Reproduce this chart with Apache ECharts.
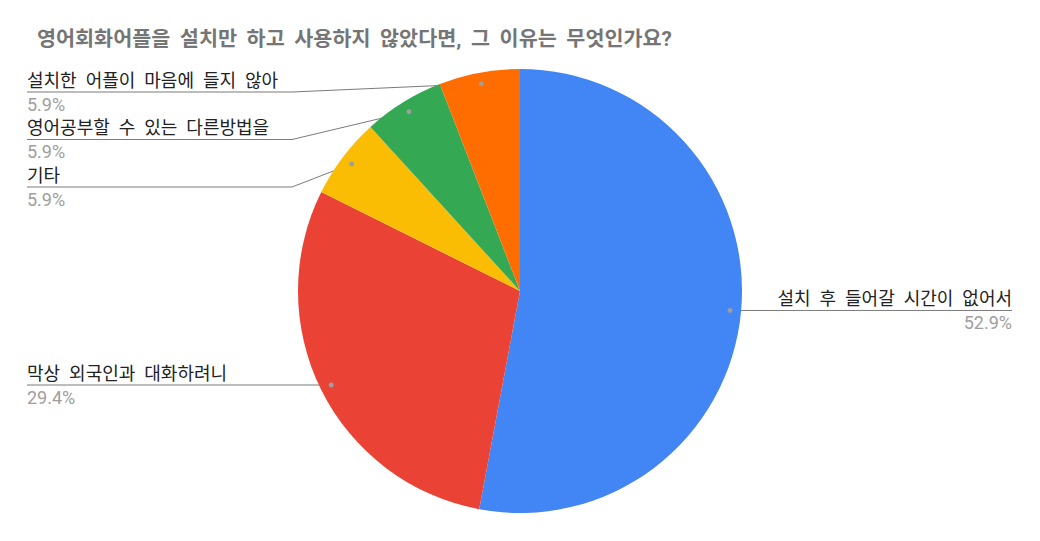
<!DOCTYPE html>
<html><head><meta charset="utf-8">
<script src="https://cdn.jsdelivr.net/npm/echarts@6/dist/echarts.min.js"></script>
<style>html,body{margin:0;padding:0;background:#fff}#c{width:1040px;height:541px;word-spacing:4.5px}</style>
</head><body><div id="c"></div>
<script>
const titleText = '영어회화어플을 설치만 하고 사용하지 않았다면, 그 이유는 무엇인가요?';
const categories = ['설치 후 들어갈 시간이 없어서', '막상 외국인과 대화하려니', '기타', '영어공부할 수 있는 다른방법을', '설치한 어플이 마음에 들지 않아'];
const values = [9, 5, 1, 1, 1];
const colors = ['#4285f4', '#ea4335', '#fbbc04', '#34a853', '#ff6d01'];

const FONT = "Roboto, 'Noto Sans CJK KR', sans-serif";
const LEFT_X = 27, RIGHT_X = 1012, TOP_MIN = 92, GAP = 47.5, ELBOW = 6, DOT_IN = 0.95;

const chart = echarts.init(document.getElementById('c'), null, { renderer: 'svg' });
const option = {
  animation: false,
  backgroundColor: '#ffffff',
  title: { text: titleText, left: 32, top: 24,
    textStyle: { fontFamily: FONT, fontSize: 20.7, fontWeight: 'bold', color: '#757575' } },
  series: [{
    type: 'pie', center: [520, 291], radius: 222, startAngle: 90, clockwise: true,
    percentPrecision: 1,
    data: categories.map((n, i) => ({ name: n, value: values[i], itemStyle: { color: colors[i] } })),
    itemStyle: { borderWidth: 0 },
    emphasis: { disabled: true },
    label: { show: true, position: 'outside', formatter: '{n|{b}}\n{p|{d}%}',
      rich: { n: { fontFamily: FONT, fontSize: 18, color: '#222222', lineHeight: 24 },
              p: { fontFamily: FONT, fontSize: 18, color: '#9e9e9e', lineHeight: 24 } } },
    labelLine: { show: true, length: 10, length2: 10, lineStyle: { color: '#7b7b7b', width: 1 } }
  }]
};
chart.setOption(option);

// Read the library's own slice layout to place dots and label rows
const sdata = chart.getModel().getSeriesByIndex(0).getData();
const info = [];
for (let i = 0; i < values.length; i++) {
  const L = sdata.getItemLayout(i);
  const mid = (L.startAngle + L.endAngle) / 2;
  const dx = Math.cos(mid), dy = Math.sin(mid);
  info.push({ i, side: dx < 0 ? 'left' : 'right', cx: L.cx, r: L.r,
    dot: [L.cx + dx * L.r * DOT_IN, L.cy + dy * L.r * DOT_IN] });
}
['left', 'right'].forEach(side => {
  const arr = info.filter(o => o.side === side).sort((a, b) => a.dot[1] - b.dot[1]);
  let prev = -Infinity;
  arr.forEach(o => { o.y = Math.max(o.dot[1], prev + GAP, TOP_MIN); prev = o.y; });
});

chart.setOption({
  series: [{
    labelLayout: function (params) {
      const o = info[params.dataIndex];
      if (o.side === 'left') {
        return { x: LEFT_X, y: o.y, align: 'left', verticalAlign: 'middle',
          labelLinePoints: [o.dot, [o.cx - o.r - ELBOW, o.y], [LEFT_X, o.y]] };
      }
      return { x: RIGHT_X, y: o.y, align: 'right', verticalAlign: 'middle',
        labelLinePoints: [o.dot, [o.cx + o.r + ELBOW, o.y], [RIGHT_X, o.y]] };
    }
  }],
  graphic: info.map(o => ({ type: 'circle', z: 100, silent: true,
    shape: { cx: o.dot[0], cy: o.dot[1], r: 2.5 }, style: { fill: '#9e9e9e' } }))
});
</script>
</body></html>
